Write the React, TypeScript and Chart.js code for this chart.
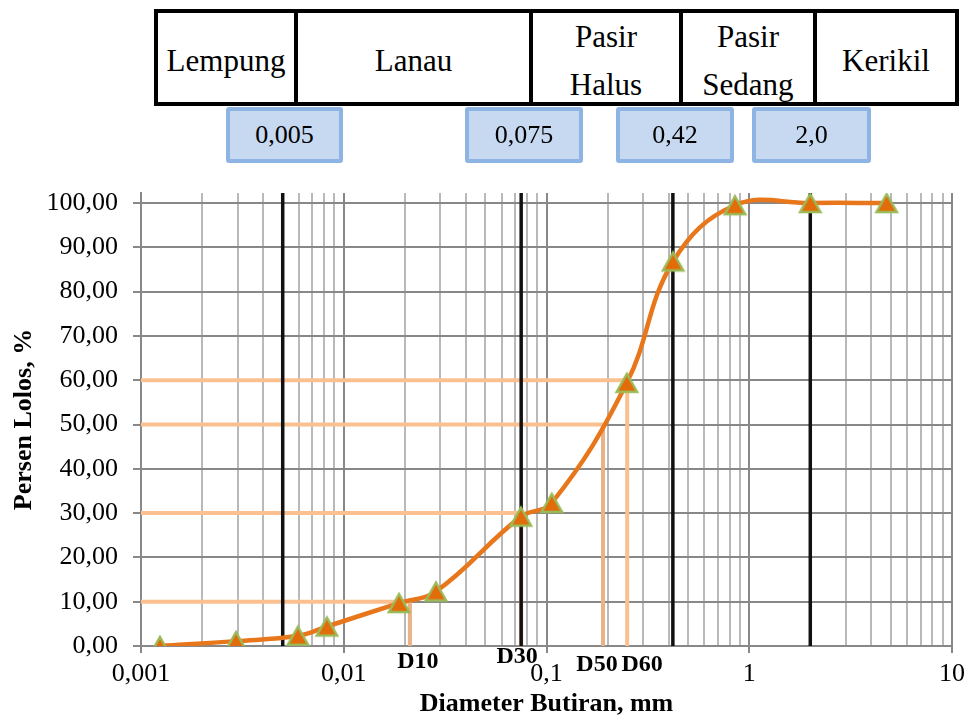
import React, { useEffect, useRef } from "react";
import { Chart, registerables } from "chart.js";

Chart.register(...registerables);

// ---------- data ----------
const diameters = [0.00124, 0.00294, 0.00594, 0.00826, 0.01875, 0.0285, 0.0748, 0.1062, 0.249, 0.421, 0.851, 2.0, 4.76];
const passing = [0.0, 1.1, 2.3, 4.4, 9.7, 12.3, 29.2, 32.3, 59.4, 86.8, 99.5, 100.0, 100.0];

const boundaryValues = [0.005, 0.075, 0.42, 2.0];
const boundaryLabels = ["0,005", "0,075", "0,42", "2,0"];

const soilClasses = ["Lempung", "Lanau", "Pasir\nHalus", "Pasir\nSedang", "Kerikil"];

const dNames = ["D10", "D30", "D50", "D60"];
const dPercent = [10, 30, 50, 60];
const dDiameter = [0.0212, 0.075, 0.19, 0.25];

const yTicks = [0, 10, 20, 30, 40, 50, 60, 70, 80, 90, 100];
const xDecades = [0.001, 0.01, 0.1, 1, 10];
const X_MIN = 0.001;
const X_MAX = 10;
const Y_MIN = 0;
const Y_MAX = 102.26;

// ---------- layout / style (not data) ----------
const SERIF = "'Liberation Serif', 'Times New Roman', Times, serif";
const tableCells = [
  { left: 154, right: 298 },
  { left: 294, right: 533 },
  { left: 529, right: 683 },
  { left: 679, right: 817 },
  { left: 813, right: 959 },
];
const blueBoxes = [
  { left: 226, right: 343 },
  { left: 465, right: 583 },
  { left: 616, right: 734 },
  { left: 752, right: 871 },
];
const dLabelOffsets = [
  { dx: 8, y: 662 },
  { dx: -4, y: 657 },
  { dx: -6, y: 665 },
  { dx: 15, y: 665 },
];

const isPow10 = (v: number) => Math.abs(Math.log10(v) - Math.round(Math.log10(v))) < 1e-9;

function buildLogTicks() {
  const ticks: { value: number }[] = [];
  for (let i = 0; i < xDecades.length - 1; i++) {
    for (let m = 1; m <= 9; m++) ticks.push({ value: xDecades[i] * m });
  }
  ticks.push({ value: xDecades[xDecades.length - 1] });
  return ticks;
}

// triangle marker centred on its bounding box (like the spreadsheet marker)
function makeTriangleMarker() {
  const size = 30;
  const c = document.createElement("canvas");
  c.width = size;
  c.height = size;
  const g = c.getContext("2d")!;
  const w = 20.5;
  const h = 18;
  const top = (size - h) / 2;
  g.beginPath();
  g.moveTo(size / 2, top);
  g.lineTo(size / 2 + w / 2, top + h);
  g.lineTo(size / 2 - w / 2, top + h);
  g.closePath();
  g.fillStyle = "#E36C0A";
  g.fill();
  g.lineWidth = 2.4;
  g.lineJoin = "miter";
  g.strokeStyle = "#9BBB59";
  g.stroke();
  return c;
}

const dLabelPlugin = {
  id: "dLabels",
  afterDraw(chart: any) {
    const ctx = chart.ctx;
    const xs = chart.scales.x;
    ctx.save();
    ctx.font = `bold 24px ${SERIF}`;
    ctx.fillStyle = "#000";
    ctx.textAlign = "center";
    ctx.textBaseline = "middle";
    dNames.forEach((name, i) => {
      const x = xs.getPixelForValue(dDiameter[i]) + dLabelOffsets[i].dx;
      ctx.fillText(name, x, dLabelOffsets[i].y);
    });
    ctx.restore();
  },
};

export default function App() {
  const canvasRef = useRef<HTMLCanvasElement | null>(null);

  useEffect(() => {
    const canvas = canvasRef.current;
    if (!canvas) return;

    const marker = makeTriangleMarker();

    const mainSeries = {
      label: "Gradasi",
      data: diameters.map((d, i) => ({ x: d, y: passing[i] })),
      borderColor: "#E8761B",
      borderWidth: 4.5,
      tension: 0.4,
      pointStyle: marker,
      pointRadius: 11,
      order: 0,
    };

    const boundarySeries = boundaryValues.map((b) => ({
      label: "batas " + b,
      data: [
        { x: b, y: Y_MIN },
        { x: b, y: Y_MAX },
      ],
      borderColor: "#111",
      borderWidth: 3.5,
      pointRadius: 0,
      tension: 0,
      order: 1,
    }));

    const dHorizontal = dNames.map((n, i) => ({
      label: n + " h",
      data: [
        { x: X_MIN, y: dPercent[i] },
        { x: dDiameter[i], y: dPercent[i] },
      ],
      borderColor: "#FAC090",
      borderWidth: 4,
      pointRadius: 0,
      tension: 0,
      order: 2,
    }));
    const dVertical = dNames.map((n, i) => ({
      label: n + " v",
      data: [
        { x: dDiameter[i], y: dPercent[i] },
        { x: dDiameter[i], y: Y_MIN },
      ],
      borderColor: i === 3 ? "#FAC090" : "#E9B287",
      borderWidth: 4,
      pointRadius: 0,
      tension: 0,
      order: 2,
    }));

    const chart = new Chart(canvas, {
      type: "line",
      data: { datasets: [mainSeries, ...boundarySeries, ...dHorizontal, ...dVertical] as any },
      options: {
        animation: false,
        responsive: false,
        maintainAspectRatio: false,
        layout: { padding: { top: 193, right: 16, bottom: 0, left: 0 } },
        plugins: { legend: { display: false }, tooltip: { enabled: false } },
        scales: {
          x: {
            type: "logarithmic",
            min: X_MIN,
            max: X_MAX,
            afterBuildTicks: (scale: any) => {
              scale.ticks = buildLogTicks();
            },
            afterFit: (scale: any) => {
              scale.height = 74;
              scale.paddingLeft = 0;
              scale.paddingRight = 0;
            },
            ticks: {
              autoSkip: false,
              maxRotation: 0,
              padding: 6,
              color: "#000",
              font: { family: SERIF, size: 26 },
              callback: (v: any) => (isPow10(Number(v)) ? String(Number(v)).replace(".", ",") : ""),
            },
            grid: {
              color: (ctx: any) => (ctx.tick && isPow10(ctx.tick.value) ? "#888888" : "#b9b9b9"),
              lineWidth: 2,
              tickLength: 7,
              tickColor: (ctx: any) => (ctx.tick && isPow10(ctx.tick.value) ? "#888888" : "rgba(0,0,0,0)"),
            },
            border: { color: "#888888", width: 2 },
            title: {
              display: true,
              text: "Diameter Butiran, mm",
              color: "#000",
              font: { family: SERIF, size: 26, weight: "bold" },
              padding: { top: 0, bottom: 0 },
            },
          },
          y: {
            type: "linear",
            min: Y_MIN,
            max: Y_MAX,
            afterBuildTicks: (scale: any) => {
              scale.ticks = yTicks.map((v) => ({ value: v }));
            },
            afterFit: (scale: any) => {
              scale.width = 141;
              scale.paddingTop = 0;
              scale.paddingBottom = 0;
            },
            ticks: {
              padding: 15,
              color: "#000",
              font: { family: SERIF, size: 26 },
              callback: (v: any) => Number(v).toFixed(2).replace(".", ","),
            },
            grid: {
              color: "#888888",
              lineWidth: 2,
              tickLength: 8,
            },
            border: { color: "#888888", width: 2 },
            title: {
              display: true,
              text: "Persen Lolos, %",
              color: "#000",
              font: { family: SERIF, size: 26, weight: "bold" },
              padding: { top: 9, bottom: 0 },
            },
          },
        },
      },
      plugins: [dLabelPlugin],
    } as any);

    return () => chart.destroy();
  }, []);

  return (
    <div style={{ position: "absolute", left: 0, top: 0, width: 968, height: 720, background: "#fff", overflow: "hidden" }}>
      <canvas ref={canvasRef} width={968} height={720} style={{ position: "absolute", left: 0, top: 0, width: 968, height: 720 }} />
      {soilClasses.map((name, i) => (
        <div
          key={name}
          style={{
            position: "absolute",
            left: tableCells[i].left,
            top: 9,
            width: tableCells[i].right - tableCells[i].left,
            height: 97,
            boxSizing: "border-box",
            border: "4px solid #000",
            background: "#fff",
            display: "flex",
            alignItems: "center",
            justifyContent: "center",
            paddingTop: 7,
            fontFamily: SERIF,
            fontSize: 31,
            lineHeight: "48px",
            textAlign: "center",
            whiteSpace: "pre-line",
            color: "#000",
          }}
        >
          {name}
        </div>
      ))}
      {boundaryLabels.map((lab, i) => (
        <div
          key={lab}
          style={{
            position: "absolute",
            left: blueBoxes[i].left,
            top: 107,
            width: blueBoxes[i].right - blueBoxes[i].left,
            height: 56,
            boxSizing: "border-box",
            border: "4px solid #8EB4E3",
            borderRadius: 3,
            background: "#C6D9F1",
            display: "flex",
            alignItems: "center",
            justifyContent: "center",
            fontFamily: SERIF,
            fontSize: 26,
            color: "#000",
          }}
        >
          {lab}
        </div>
      ))}
    </div>
  );
}
